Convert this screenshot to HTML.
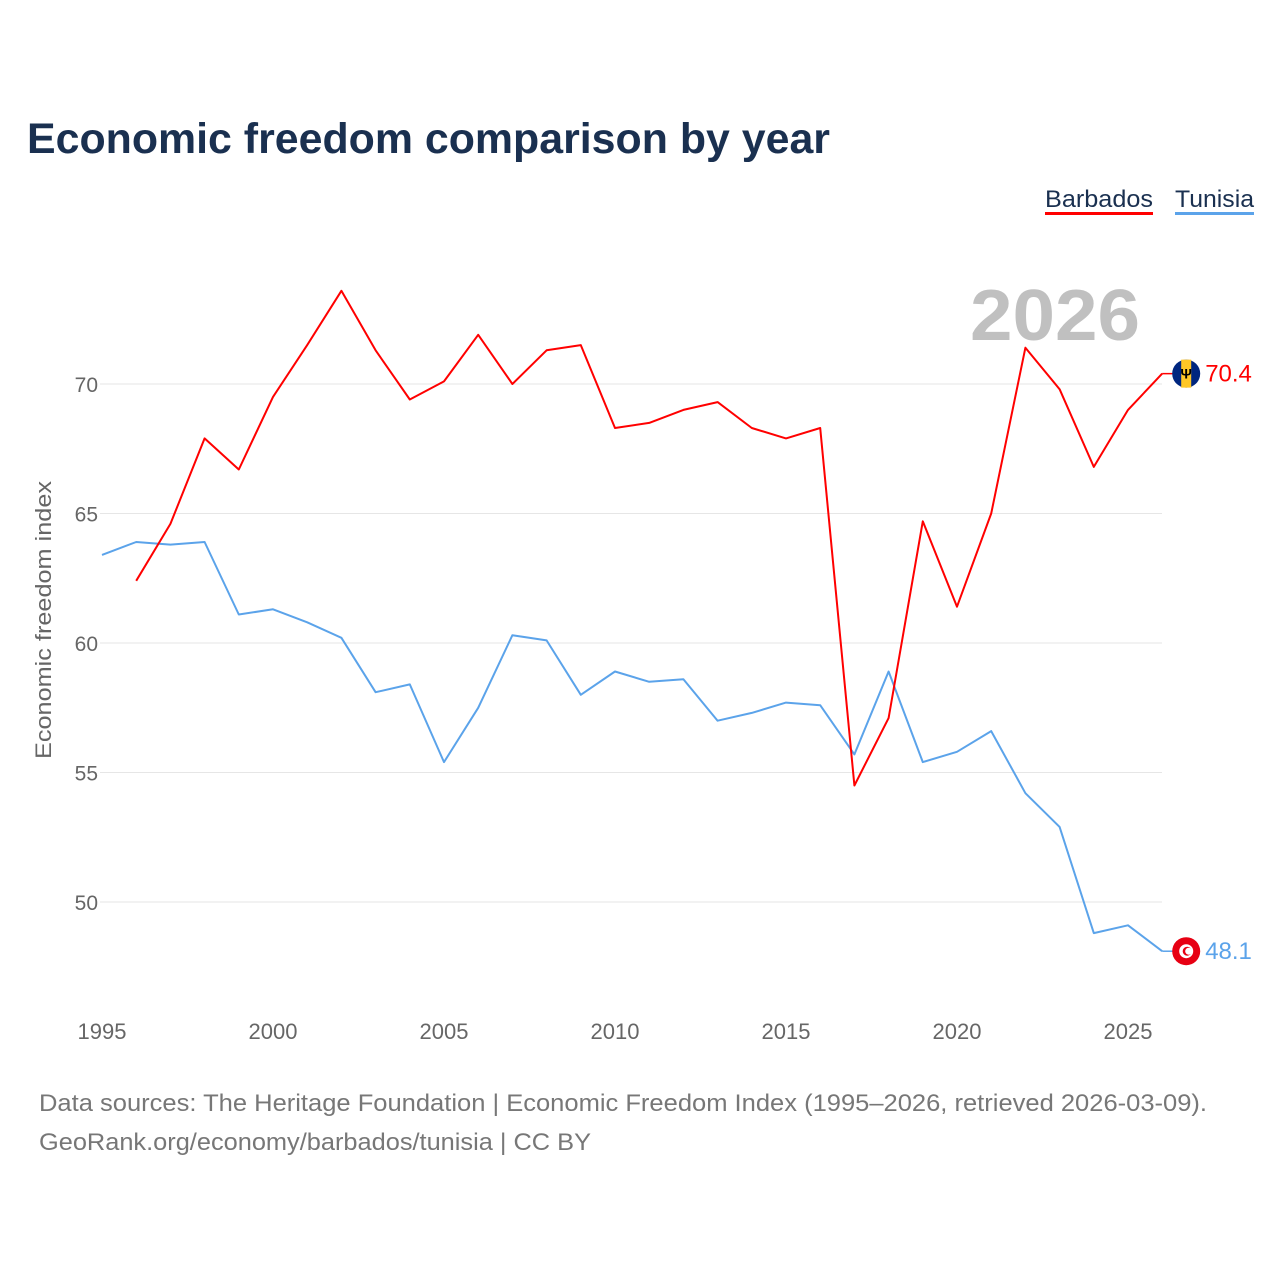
<!DOCTYPE html>
<html><head><meta charset="utf-8">
<style>
html,body{margin:0;padding:0;background:#fff;}
body{width:1280px;height:1280px;position:relative;overflow:hidden;font-family:"Liberation Sans",sans-serif;}
svg{position:absolute;left:0;top:0;}
</style></head>
<body>
<svg id="chart" width="1280" height="1280">
<text x="27" y="153" font-size="43" font-weight="bold" fill="#1a3050" textLength="803" lengthAdjust="spacingAndGlyphs">Economic freedom comparison by year</text>
<g>
<text x="1045" y="207" font-size="24" fill="#1a3050" textLength="108" lengthAdjust="spacingAndGlyphs">Barbados</text>
<rect x="1045" y="212" width="108" height="3" fill="#ff0000"/>
<text x="1175" y="207" font-size="24" fill="#1a3050" textLength="79" lengthAdjust="spacingAndGlyphs">Tunisia</text>
<rect x="1175" y="212" width="79" height="3" fill="#5ba3ea"/>
</g>
<text x="1140" y="340" font-size="72" font-weight="bold" fill="#c0c0c0" text-anchor="end" textLength="170" lengthAdjust="spacingAndGlyphs">2026</text>
<g id="grid"></g>
<g id="lines"></g>
<text transform="translate(51,620) rotate(-90)" font-size="22" fill="#666" text-anchor="middle" textLength="278" lengthAdjust="spacingAndGlyphs">Economic freedom index</text>
<g>
<text x="39" y="1111" font-size="24" fill="#777" textLength="1168" lengthAdjust="spacingAndGlyphs">Data sources: The Heritage Foundation | Economic Freedom Index (1995–2026, retrieved 2026-03-09).</text>
<text x="39" y="1150" font-size="24" fill="#777" textLength="552" lengthAdjust="spacingAndGlyphs">GeoRank.org/economy/barbados/tunisia | CC BY</text>
</g>
</svg>
<script>
const years=[1995,1996,1997,1998,1999,2000,2001,2002,2003,2004,2005,2006,2007,2008,2009,2010,2011,2012,2013,2014,2015,2016,2017,2018,2019,2020,2021,2022,2023,2024,2025,2026];
const barbados=[null,62.4,64.6,67.9,66.7,69.5,71.5,73.6,71.3,69.4,70.1,71.9,70.0,71.3,71.5,68.3,68.5,69.0,69.3,68.3,67.9,68.3,54.5,57.1,64.7,61.4,65.0,71.4,69.8,66.8,69.0,70.4];
const tunisia=[63.4,63.9,63.8,63.9,61.1,61.3,60.8,60.2,58.1,58.4,55.4,57.5,60.3,60.1,58.0,58.9,58.5,58.6,57.0,57.3,57.7,57.6,55.7,58.9,55.4,55.8,56.6,54.2,52.9,48.8,49.1,48.1];
const yTicks=[50,55,60,65,70];
const xTicks=[1995,2000,2005,2010,2015,2020,2025];
const NS="http://www.w3.org/2000/svg";
const xs=y=>102+(y-1995)*34.2;
const ys=v=>384+(70-v)*25.9;
const grid=document.getElementById('grid'),lines=document.getElementById('lines');
function mk(tag,attrs,parent){const e=document.createElementNS(NS,tag);for(const k in attrs)e.setAttribute(k,attrs[k]);parent.appendChild(e);return e;}
yTicks.forEach(t=>{
 const l=mk('line',{x1:100,x2:1162,y1:ys(t),y2:ys(t),stroke:'#e6e6e6','stroke-width':1},grid);
 
 
 const tx=mk('text',{x:98,y:ys(t)+8,'font-size':21,fill:'#666','text-anchor':'end'},grid);
 tx.textContent=t;
 
 
});
xTicks.forEach(t=>{
 const tx=mk('text',{x:xs(t),y:1039,'font-size':22,fill:'#666','text-anchor':'middle'},grid);
 tx.textContent=t;
 
 
});
function series(vals,color,name){
 let d='';vals.forEach((v,i)=>{if(v==null)return;d+=(d?'L':'M')+xs(years[i]).toFixed(1)+','+ys(v).toFixed(1);});
 const p=mk('path',{d:d,fill:'none',stroke:color,'stroke-width':2,'stroke-linejoin':'round'},lines);
 
 
 const last=vals[vals.length-1],lx=xs(years[years.length-1]),ly=ys(last);
 const c=mk('line',{x1:lx,x2:lx+12,y1:ly,y2:ly,stroke:color,'stroke-width':1.5},lines);
 
 
 const g=mk('g',{},lines);
 
 
 if(name==='barbados'){
  mk('circle',{cx:lx+24,cy:ly,r:14,fill:'#00267f'},g);
  mk('rect',{x:lx+19,y:ly-14,width:10,height:28,fill:'#ffc726'},g);
  const t=mk('text',{x:lx+24,y:ly+5,'font-size':14,'text-anchor':'middle',fill:'#000','font-weight':'bold'},g);t.textContent='Ψ';
 }else{
  mk('circle',{cx:lx+24,cy:ly,r:14,fill:'#e70013'},g);
  mk('circle',{cx:lx+24,cy:ly,r:7,fill:'#fff'},g);
  mk('circle',{cx:lx+25,cy:ly,r:4.5,fill:'#e70013'},g);
  mk('circle',{cx:lx+26.5,cy:ly,r:3.5,fill:'#fff'},g);
 }
 const lab=mk('text',{x:lx+43,y:ly+8,'font-size':24,fill:color},lines);
 lab.textContent=last.toFixed(1);
 
 
}
series(tunisia,'#5ba3ea','tunisia');
series(barbados,'#ff0000','barbados');
</script>
</body></html>
